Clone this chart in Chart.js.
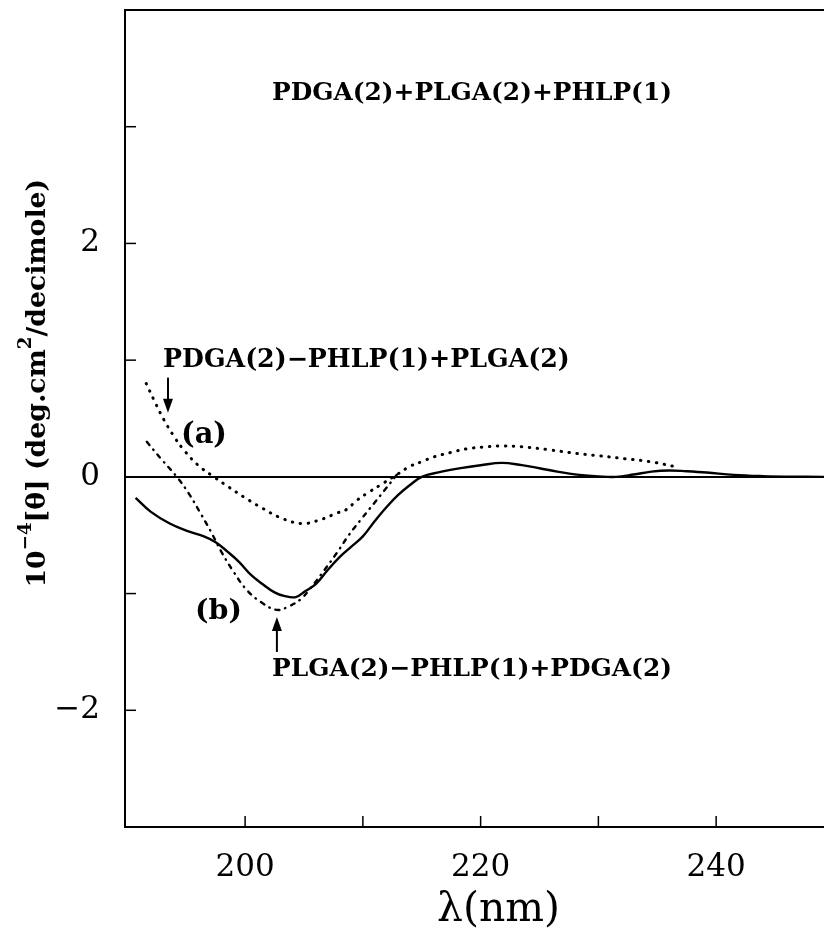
<!DOCTYPE html>
<html>
<head>
<meta charset="utf-8">
<script src="https://cdn.jsdelivr.net/npm/chart.js@4.4.1/dist/chart.umd.min.js"></script>
<style>
  html, body { margin: 0; padding: 0; background: #fff; overflow: hidden; }
  canvas { display: block; }
</style>
</head>
<body>
<canvas id="cd" width="824" height="939"></canvas>
<script>
// ── DATA ─────────────────────────────────────────────────────────────────────
// solid curve (mixture spectrum)
const solidX = [190.7, 192, 193.6, 195, 196.5, 197.5, 198.5, 199.5, 200.5, 201.5, 202.5, 203.3, 204.3, 205.1, 206, 207, 208, 209, 210, 211, 212, 213, 214, 215, 216.5, 218.3, 220, 221.8, 223.5, 225, 226.5, 228.4, 230, 231.5, 233, 234.5, 236, 237.5, 239.2, 241.5, 244, 246, 249.2];
const solidY = [-0.18, -0.30, -0.40, -0.46, -0.51, -0.56, -0.64, -0.73, -0.84, -0.92, -0.99, -1.02, -1.03, -0.98, -0.92, -0.80, -0.69, -0.60, -0.51, -0.38, -0.26, -0.155, -0.07, 0.0, 0.04, 0.075, 0.10, 0.12, 0.10, 0.074, 0.045, 0.017, 0.004, 0.0, 0.02, 0.045, 0.055, 0.048, 0.037, 0.017, 0.006, 0.002, 0.0];
// (a) PDGA(2)-PHLP(1)+PLGA(2)
const aX = [191.6, 192.3, 193.1, 194, 194.8, 196, 197.2, 198.5, 200, 201.5, 203, 204.8, 206.3, 207.8, 208.6, 209.5, 210.6, 211.8, 212.9, 214, 215, 216, 217.5, 218.8, 220.2, 221.8, 223.5, 225.8, 228.2, 230.1, 232.3, 234.4, 236.5];
const aY = [0.80, 0.65, 0.49, 0.34, 0.23, 0.10, 0.01, -0.08, -0.18, -0.27, -0.35, -0.40, -0.37, -0.31, -0.28, -0.20, -0.125, -0.05, 0.02, 0.09, 0.13, 0.17, 0.21, 0.24, 0.255, 0.265, 0.258, 0.232, 0.20, 0.18, 0.155, 0.13, 0.088];
// (b) PLGA(2)-PHLP(1)+PDGA(2)
const bX = [191.65, 192.9, 194.2, 195.2, 196.2, 197.1, 198.0, 199.0, 200.1, 201.3, 202.7, 203.7, 204.7, 205.5, 206.5, 207.8, 208.8, 209.8, 210.6, 211.8, 212.9];
const bY = [0.30, 0.15, 0.0, -0.14, -0.31, -0.47, -0.645, -0.81, -0.965, -1.07, -1.14, -1.11, -1.05, -0.96, -0.83, -0.65, -0.50, -0.37, -0.27, -0.12, 0.02];

const xTicks = [200, 210, 220, 230, 240];
const xTickLabels = ['200', '', '220', '', '240'];
const yTicks = [-2, -1, 0, 1, 2, 3];
const yTickLabels = ['\u22122', '', '0', '', '2', ''];

const FONT = "'DejaVu Serif', 'Liberation Serif', serif";
const pts = (xs, ys) => xs.map((x, i) => ({ x, y: ys[i] }));

// ── DRAW HELPERS ─────────────────────────────────────────────────────────────
function fitFont(ctx, text, width, weight) {
  ctx.font = `${weight} 100px ${FONT}`;
  return 100 * width / ctx.measureText(text).width;
}

function label(ctx, text, left, cy, width, weight) {
  const size = fitFont(ctx, text, width, weight);
  ctx.font = `${weight} ${size}px ${FONT}`;
  ctx.textAlign = 'left'; ctx.textBaseline = 'middle';
  ctx.fillText(text, left, cy);
}

function arrow(ctx, x, tail, tip) {
  const dir = Math.sign(tip - tail);
  ctx.lineWidth = 2;
  ctx.beginPath(); ctx.moveTo(x, tail); ctx.lineTo(x, tip - dir * 10); ctx.stroke();
  ctx.beginPath();
  ctx.moveTo(x, tip); ctx.lineTo(x - 5, tip - dir * 14); ctx.lineTo(x + 5, tip - dir * 14);
  ctx.closePath(); ctx.fill();
}

const noPad = s => { s.paddingTop = 0; s.paddingBottom = 0; s.paddingLeft = 0; s.paddingRight = 0; };

const frame = {
  id: 'frame',
  afterDraw(chart) {
    const { ctx, chartArea: a, scales: { x, y } } = chart;
    ctx.save();
    ctx.strokeStyle = '#000'; ctx.fillStyle = '#000';
    // top border
    ctx.lineWidth = 2;
    ctx.beginPath(); ctx.moveTo(a.left, a.top); ctx.lineTo(a.right, a.top); ctx.stroke();
    // inward ticks
    ctx.lineWidth = 1.5;
    xTicks.forEach(v => {
      const px = x.getPixelForValue(v);
      ctx.beginPath(); ctx.moveTo(px, a.bottom); ctx.lineTo(px, a.bottom - 11); ctx.stroke();
    });
    yTicks.forEach(v => {
      const py = y.getPixelForValue(v);
      ctx.beginPath(); ctx.moveTo(a.left, py); ctx.lineTo(a.left + 11, py); ctx.stroke();
    });

    // annotations
    label(ctx, 'PDGA(2)+PLGA(2)+PHLP(1)', 272, 94, 400, 'bold');
    label(ctx, 'PDGA(2)\u2212PHLP(1)+PLGA(2)', 163, 360, 407, 'bold');
    label(ctx, 'PLGA(2)\u2212PHLP(1)+PDGA(2)', 272, 670, 400, 'bold');
    label(ctx, '(a)', 181, 435, 46, 'bold');
    label(ctx, '(b)', 195, 612, 47, 'bold');
    arrow(ctx, x.getPixelForValue(193.45), y.getPixelForValue(0.85), y.getPixelForValue(0.55));
    arrow(ctx, x.getPixelForValue(202.7), y.getPixelForValue(-1.5), y.getPixelForValue(-1.20));

    // x axis title
    label(ctx, '\u03bb(nm)', 437, 910, 123, 'normal');

    // y axis title, rotated, with superscripts
    const segs = [['10', 0], ['\u22124', 1], ['[\u03b8] (deg.cm', 0], ['2', 1], ['/decimole)', 0]];
    const base = 25, sup = 17;
    ctx.translate(38, 383); ctx.rotate(-Math.PI / 2);
    ctx.textBaseline = 'middle'; ctx.textAlign = 'left';
    const w = segs.reduce((s, [t, up]) => {
      ctx.font = `bold ${up ? sup : base}px ${FONT}`; return s + ctx.measureText(t).width;
    }, 0);
    const k = 409 / w;
    let cx = -204.5;
    segs.forEach(([t, up]) => {
      ctx.font = `bold ${(up ? sup : base) * k}px ${FONT}`;
      ctx.fillText(t, cx, up ? -11 * k : 0);
      cx += ctx.measureText(t).width;
    });
    ctx.restore();
  }
};

// ── CHART ────────────────────────────────────────────────────────────────────
new Chart(document.getElementById('cd'), {
  type: 'line',
  data: {
    datasets: [
      { data: pts(solidX, solidY), borderColor: '#000', borderWidth: 2.4, tension: 0.4 },
      { data: pts(aX, aY), borderColor: '#000', borderWidth: 3, borderDash: [0.5, 7.5], borderCapStyle: 'round', tension: 0.4 },
      { data: pts(bX, bY), borderColor: '#000', borderWidth: 2.4, borderDash: [4, 6, 0.5, 6], borderCapStyle: 'round', tension: 0.4 }
    ]
  },
  options: {
    responsive: false, animation: false, events: [],
    layout: { padding: { top: 10, right: 0, left: 0, bottom: 0 } },
    elements: { point: { radius: 0 } },
    plugins: { legend: { display: false }, tooltip: { enabled: false } },
    scales: {
      x: {
        type: 'linear', min: 189.8, max: 249.16,
        afterFit: s => { s.height = 112; noPad(s); },
        afterBuildTicks: s => { s.ticks = xTicks.map(value => ({ value })); },
        grid: { display: false },
        border: { display: true, color: '#000', width: 2 },
        ticks: {
          autoSkip: false, maxRotation: 0, padding: 14, color: '#000',
          font: { family: FONT, size: 31 },
          callback: v => xTickLabels[xTicks.indexOf(v)] ?? ''
        }
      },
      y: {
        min: -3, max: 4,
        afterFit: s => { s.width = 125; noPad(s); },
        afterBuildTicks: s => { s.ticks = yTicks.map(value => ({ value })); },
        grid: { drawTicks: false, color: c => c.tick && c.tick.value === 0 ? '#000' : 'transparent', lineWidth: 2 },
        border: { display: true, color: '#000', width: 2 },
        ticks: {
          padding: 25, color: '#000',
          font: { family: FONT, size: 31 },
          callback: v => yTickLabels[yTicks.indexOf(v)] ?? ''
        }
      }
    }
  },
  plugins: [frame]
});
</script>
</body>
</html>
